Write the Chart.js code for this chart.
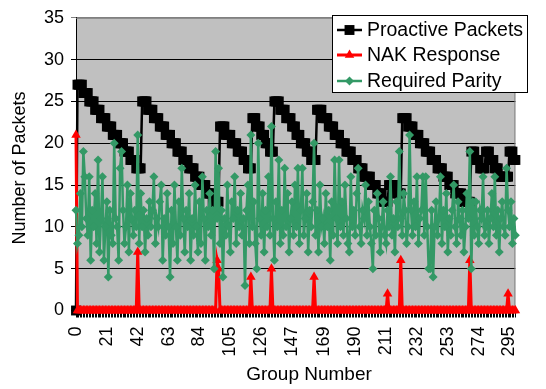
<!DOCTYPE html>
<html>
<head>
<meta charset="utf-8">
<script src="https://cdn.jsdelivr.net/npm/chart.js@4.4.1/dist/chart.umd.min.js"></script>
<style>
  html, body { margin: 0; padding: 0; background: #ffffff; }
  #wrap { width: 546px; height: 389px; position: relative; }
</style>
</head>
<body>
<div id="wrap"><canvas id="chart" width="546" height="389"></canvas></div>
<script>
// Group numbers along the x axis (one category per group)
const groups = Array.from({ length: 300 }, (_, i) => i);

// Labelled groups on the x axis
const tickLabels = ['0', '21', '42', '63', '84', '105', '126', '147', '169', '190', '211', '232', '253', '274', '295'];

// Proactive packets sent per group
const proactivePackets = [
  0, 27, 27, 27, 27, 26, 26, 26, 26, 25, 25, 25, 25, 24, 24, 24, 24, 23, 23, 23,
  23, 22, 22, 22, 22, 21, 21, 21, 21, 20, 20, 20, 20, 19, 19, 19, 19, 18, 18, 18,
  18, 17, 17, 17, 17, 25, 25, 25, 25, 24, 24, 24, 24, 23, 23, 23, 23, 22, 22, 22,
  22, 21, 21, 21, 21, 20, 20, 20, 20, 19, 19, 19, 19, 18, 18, 18, 18, 17, 17, 17,
  17, 16, 16, 16, 16, 15, 15, 15, 15, 14, 14, 14, 14, 13, 13, 13, 13, 13, 22, 22,
  22, 22, 21, 21, 21, 21, 20, 20, 20, 20, 19, 19, 19, 19, 18, 18, 18, 17, 17, 17,
  23, 23, 23, 22, 22, 22, 21, 21, 21, 20, 20, 20, 19, 19, 19, 25, 25, 25, 25, 24,
  24, 24, 24, 23, 23, 23, 23, 22, 22, 22, 21, 21, 21, 20, 20, 20, 20, 19, 19, 19,
  18, 18, 18, 18, 24, 24, 24, 24, 23, 23, 23, 23, 22, 22, 22, 22, 21, 21, 21, 21,
  20, 20, 20, 20, 19, 19, 19, 19, 18, 18, 18, 18, 17, 17, 17, 17, 16, 16, 16, 16,
  16, 15, 15, 15, 15, 14, 14, 14, 14, 13, 13, 13, 13, 15, 15, 15, 15, 15, 14, 14,
  14, 14, 23, 23, 23, 23, 22, 22, 22, 22, 21, 21, 21, 21, 20, 20, 20, 20, 19, 19,
  19, 19, 18, 18, 18, 18, 17, 17, 17, 17, 16, 16, 16, 16, 15, 15, 15, 15, 14, 14,
  14, 14, 14, 13, 13, 13, 13, 13, 13, 19, 19, 19, 18, 18, 18, 17, 17, 17, 17, 19,
  19, 19, 18, 18, 18, 17, 17, 17, 16, 16, 16, 16, 16, 16, 16, 19, 19, 19, 18, 18
];

// NAK responses per group
const nakResponse = [
  21, 0, 0, 0, 0, 0, 0, 0, 0, 0, 0, 0, 0, 0, 0, 0, 0, 0, 0, 0,
  0, 0, 0, 0, 0, 0, 0, 0, 0, 0, 0, 0, 0, 0, 0, 0, 0, 0, 0, 0,
  0, 0, 7, 0, 0, 0, 0, 0, 0, 0, 0, 0, 0, 0, 0, 0, 0, 0, 0, 0,
  0, 0, 0, 0, 0, 0, 0, 0, 0, 0, 0, 0, 0, 0, 0, 0, 0, 0, 0, 0,
  0, 0, 0, 0, 0, 0, 0, 0, 0, 0, 0, 0, 0, 0, 0, 0, 6, 5, 0, 0,
  0, 0, 0, 0, 0, 0, 0, 0, 0, 0, 0, 0, 0, 0, 0, 0, 0, 0, 0, 4,
  0, 0, 0, 0, 0, 0, 0, 0, 0, 0, 0, 0, 0, 5, 0, 0, 0, 0, 0, 0,
  0, 0, 0, 0, 0, 0, 0, 0, 0, 0, 0, 0, 0, 0, 0, 0, 0, 0, 0, 0,
  0, 0, 4, 0, 0, 0, 0, 0, 0, 0, 0, 0, 0, 0, 0, 0, 0, 0, 0, 0,
  0, 0, 0, 0, 0, 0, 0, 0, 0, 0, 0, 0, 0, 0, 0, 0, 0, 0, 0, 0,
  0, 0, 0, 0, 0, 0, 0, 0, 0, 0, 0, 0, 2, 0, 0, 0, 0, 0, 0, 0,
  0, 6, 0, 0, 0, 0, 0, 0, 0, 0, 0, 0, 0, 0, 0, 0, 0, 0, 0, 0,
  0, 0, 0, 0, 0, 0, 0, 0, 0, 0, 0, 0, 0, 0, 0, 0, 0, 0, 0, 0,
  0, 0, 0, 0, 0, 0, 0, 0, 6, 0, 0, 0, 0, 0, 0, 0, 0, 0, 0, 0,
  0, 0, 0, 0, 0, 0, 0, 0, 0, 0, 0, 0, 0, 0, 2, 0, 0, 0, 0, 0
];

// Parity packets actually required per group
const requiredParity = [
  12, 8, 9, 14, 10, 19, 16, 11, 9, 16, 6, 12, 10, 14, 8, 18, 7, 11, 16, 6,
  10, 13, 4, 12, 9, 8, 20, 11, 10, 6, 17, 19, 12, 8, 10, 15, 7, 14, 11, 9,
  12, 10, 21, 8, 14, 10, 12, 7, 11, 9, 13, 10, 12, 16, 8, 11, 10, 13, 15, 6,
  11, 9, 14, 10, 4, 12, 8, 15, 10, 6, 13, 9, 17, 11, 7, 12, 10, 14, 6, 11,
  9, 15, 10, 7, 13, 8, 16, 11, 6, 12, 10, 14, 9, 12, 5, 19, 11, 17, 8, 12,
  4, 11, 9, 15, 10, 7, 13, 11, 16, 8, 12, 10, 14, 9, 11, 3, 12, 15, 8, 21,
  10, 13, 8, 5, 20, 11, 9, 14, 7, 12, 10, 16, 9, 22, 11, 6, 13, 10, 18, 8,
  12, 9, 17, 10, 14, 7, 11, 13, 9, 15, 10, 17, 8, 12, 17, 9, 11, 14, 7, 12,
  10, 13, 20, 9, 12, 7, 15, 10, 11, 8, 14, 10, 12, 6, 13, 9, 18, 11, 8, 18,
  10, 13, 9, 15, 11, 8, 7, 16, 10, 12, 9, 14, 17, 10, 8, 12, 11, 15, 9, 13,
  10, 8, 5, 12, 9, 14, 11, 7, 10, 13, 9, 8, 12, 10, 16, 9, 11, 7, 13, 10,
  19, 11, 9, 14, 12, 8, 10, 21, 12, 9, 13, 10, 16, 8, 11, 12, 16, 9, 16, 10,
  5, 5, 12, 4, 10, 13, 9, 11, 16, 8, 12, 10, 14, 7, 11, 9, 12, 15, 10, 8,
  13, 11, 9, 12, 7, 10, 14, 11, 19, 5, 13, 9, 13, 10, 8, 12, 11, 16, 9, 10,
  12, 8, 11, 14, 10, 16, 9, 12, 7, 11, 13, 10, 9, 17, 12, 10, 13, 8, 11, 9
];

const FONT = 'Liberation Sans, Arial, sans-serif';
const labelSet = new Set(tickLabels);

// Grey plot area, with grey frame lines on top and right
const plotFrame = {
  id: 'plotFrame',
  beforeDraw(chart) {
    const { ctx, chartArea: a } = chart;
    ctx.save();
    ctx.fillStyle = '#ffffff';
    ctx.fillRect(0, 0, chart.width, chart.height);
    ctx.fillStyle = '#c0c0c0';
    ctx.fillRect(a.left, a.top, a.right - a.left, a.bottom - a.top);
    ctx.restore();
  },
  beforeDatasetsDraw(chart) {
    const { ctx, chartArea: a } = chart;
    ctx.save();
    ctx.strokeStyle = '#808080';
    ctx.lineWidth = 1;
    ctx.beginPath();
    ctx.moveTo(a.left, a.top + 0.5);
    ctx.lineTo(a.right - 0.5, a.top + 0.5);
    ctx.lineTo(a.right - 0.5, a.bottom);
    ctx.stroke();
    ctx.restore();
  }
};

function drawMarker(ctx, style, x, y, r, color) {
  ctx.fillStyle = color;
  ctx.beginPath();
  if (style === 'rect') {
    const s = Math.SQRT1_2 * r;
    ctx.rect(x - s, y - s, 2 * s, 2 * s);
  } else if (style === 'triangle') {
    ctx.moveTo(x, y - r);
    ctx.lineTo(x + r * Math.sin(2 * Math.PI / 3), y - r * Math.cos(2 * Math.PI / 3));
    ctx.lineTo(x + r * Math.sin(4 * Math.PI / 3), y - r * Math.cos(4 * Math.PI / 3));
    ctx.closePath();
  } else {
    ctx.moveTo(x, y - r);
    ctx.lineTo(x + r, y);
    ctx.lineTo(x, y + r);
    ctx.lineTo(x - r, y);
    ctx.closePath();
  }
  ctx.fill();
}

// Boxed legend inside the plot, plus the two axis titles
const legendAndTitles = {
  id: 'legendAndTitles',
  afterDraw(chart) {
    const { ctx } = chart;
    ctx.save();
    const box = { x: 332, y: 15, w: 196, h: 78 };
    ctx.fillStyle = '#ffffff';
    ctx.fillRect(box.x, box.y, box.w, box.h);
    ctx.strokeStyle = '#000000';
    ctx.lineWidth = 1;
    ctx.strokeRect(box.x + 0.5, box.y + 0.5, box.w - 1, box.h - 1);

    const entries = [0, 1, 2].map(i => chart.data.datasets[i]);
    const rowY = [30, 55, 81];
    entries.forEach((ds, i) => {
      const y = rowY[i];
      ctx.strokeStyle = ds.borderColor;
      ctx.lineWidth = ds.borderWidth;
      ctx.beginPath();
      ctx.moveTo(337, y);
      ctx.lineTo(362, y);
      ctx.stroke();
      drawMarker(ctx, ds.pointStyle, 349.5, y, ds.pointRadius, ds.backgroundColor);
      ctx.fillStyle = '#000000';
      ctx.font = '19.5px ' + FONT;
      ctx.textAlign = 'left';
      ctx.textBaseline = 'middle';
      ctx.fillText(ds.label, 367, y + 1);
    });

    ctx.fillStyle = '#000000';
    ctx.font = '19px ' + FONT;
    ctx.textAlign = 'center';
    ctx.textBaseline = 'middle';
    ctx.fillText('Group Number', 309, 375);

    ctx.translate(20, 168);
    ctx.rotate(-Math.PI / 2);
    ctx.font = '18px ' + FONT;
    ctx.fillText('Number of Packets', 0, 0);
    ctx.restore();
  }
};

new Chart(document.getElementById('chart'), {
  type: 'line',
  data: {
    labels: groups,
    datasets: [
      {
        label: 'Proactive Packets',
        data: proactivePackets,
        borderColor: '#000000',
        backgroundColor: '#000000',
        borderWidth: 2.5,
        pointStyle: 'rect',
        pointRadius: 7,
        pointBorderWidth: 0,
        tension: 0,
        clip: false,
        order: 3
      },
      {
        label: 'NAK Response',
        data: nakResponse,
        borderColor: '#ff0000',
        backgroundColor: '#ff0000',
        borderWidth: 3,
        pointStyle: 'triangle',
        pointRadius: 5.5,
        pointBorderWidth: 0,
        tension: 0,
        clip: false,
        order: 2
      },
      {
        label: 'Required Parity',
        data: requiredParity,
        borderColor: '#339966',
        backgroundColor: '#339966',
        borderWidth: 2.5,
        pointStyle: 'rectRot',
        pointRadius: 4.5,
        pointBorderWidth: 0,
        tension: 0,
        clip: false,
        order: 1
      }
    ]
  },
  options: {
    responsive: false,
    animation: false,
    devicePixelRatio: 1,
    layout: { padding: { top: 13, right: 4, left: 0, bottom: 0 } },
    plugins: { legend: { display: false }, tooltip: { enabled: false } },
    scales: {
      x: {
        type: 'category',
        offset: false,
        grid: { drawOnChartArea: false, drawTicks: true, tickLength: 7, color: '#000000', lineWidth: 1 },
        border: { color: '#000000', width: 1 },
        ticks: {
          autoSkip: false,
          minRotation: 90,
          maxRotation: 90,
          padding: 9,
          color: '#000000',
          font: { family: FONT, size: 18 },
          callback(value) {
            const l = String(this.getLabelForValue(value));
            return labelSet.has(l) ? l : '';
          }
        },
        afterFit(scale) { scale.height = 78.5; }
      },
      y: {
        min: 0,
        max: 35,
        ticks: { stepSize: 5, padding: 7, color: '#000000', font: { family: FONT, size: 18 } },
        grid: {
          color: ctx => (ctx.tick && ctx.tick.value === 35 ? '#808080' : '#000000'),
          lineWidth: 1,
          tickLength: 5
        },
        border: { color: '#000000', width: 1 },
        afterFit(scale) { scale.width = 76; }
      }
    }
  },
  plugins: [plotFrame, legendAndTitles]
});
</script>
</body>
</html>
